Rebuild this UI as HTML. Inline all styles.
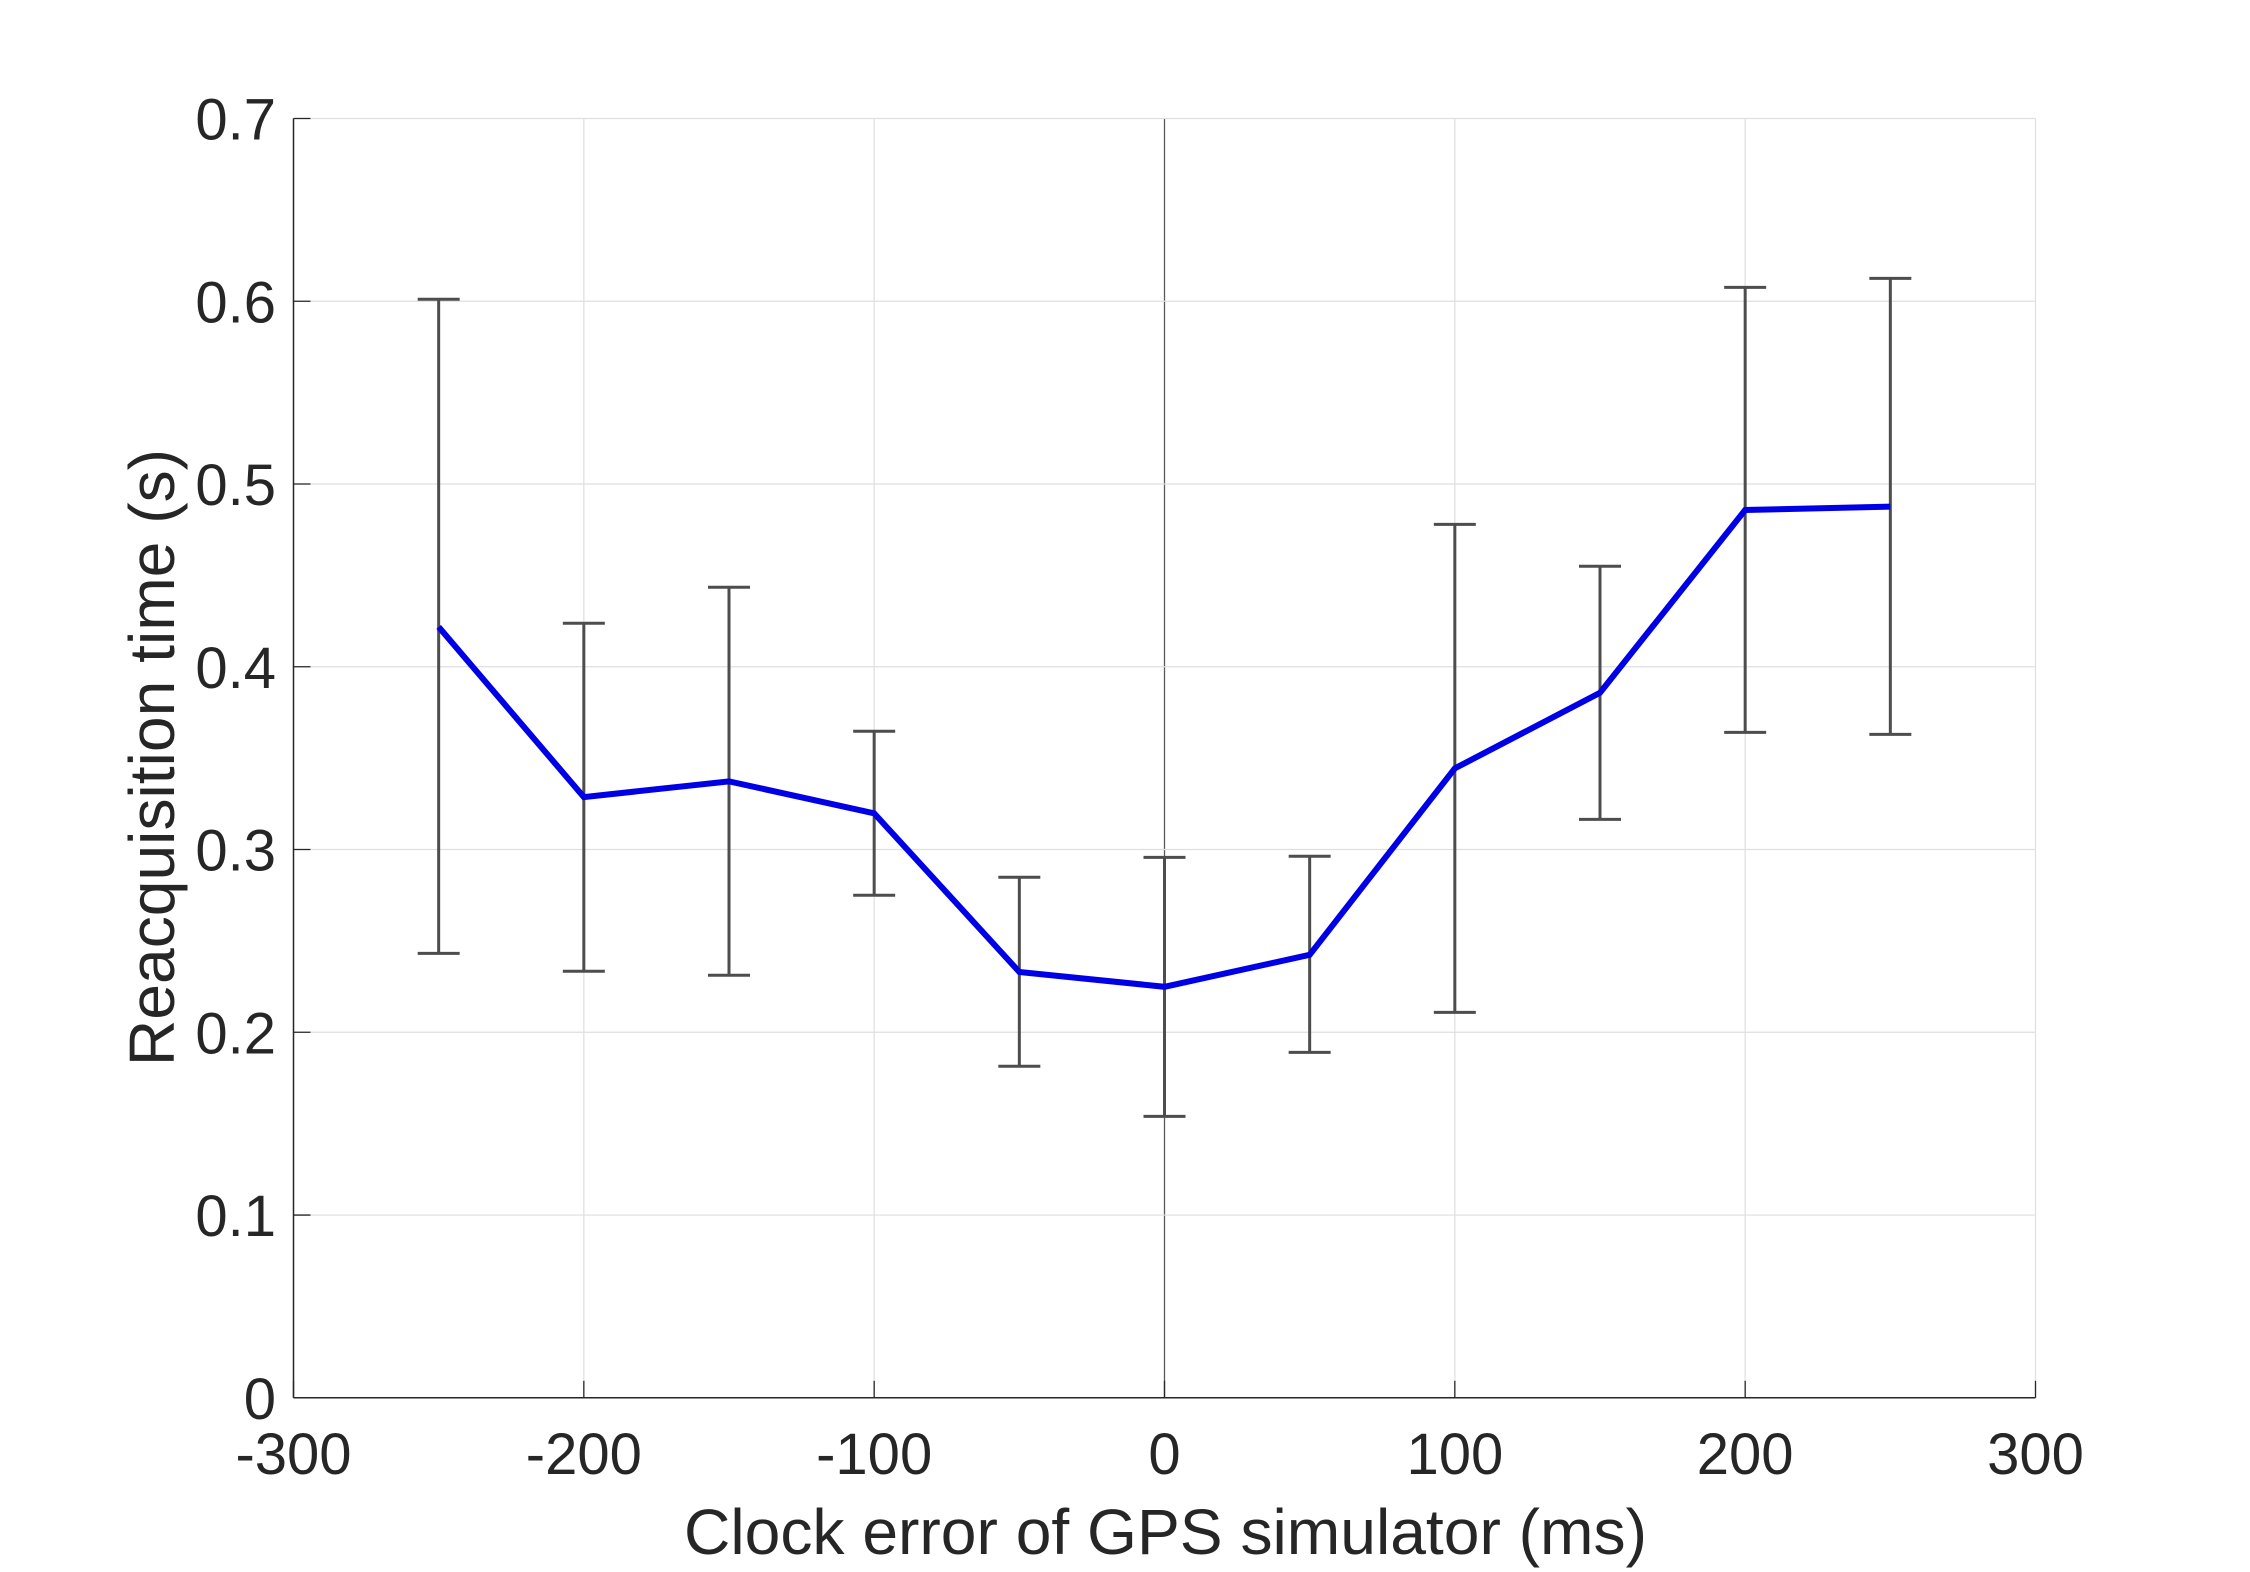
<!DOCTYPE html>
<html lang="en">
<head>
<meta charset="utf-8">
<title>Reacquisition time vs clock error</title>
<style>
html,body{margin:0;padding:0;background:#fff;}
svg{display:block;}
text{font-family:"Liberation Sans",Arial,sans-serif;fill:#262626;}
</style>
</head>
<body>
<svg id="chart" xmlns="http://www.w3.org/2000/svg" width="2250" height="1572" viewBox="0 0 2250 1572">
<rect x="0" y="0" width="2250" height="1572" fill="#ffffff"/>
<g id="grid"></g>
<g id="ticks"></g>
<g id="errs"></g>
<g id="series"></g>
<g id="labels"></g>
<text x="1165.5" y="1554" font-size="64.2" text-anchor="middle">Clock error of GPS simulator (ms)</text>
<text transform="translate(174 757.5) rotate(-90)" font-size="64.2" text-anchor="middle">Reacquisition time (s)</text>
</svg>
<script>
const categories = [-250, -200, -150, -100, -50, 0, 50, 100, 150, 200, 250];
const meanValues = [0.4218, 0.3287, 0.3373, 0.3198, 0.2330, 0.2249, 0.2424, 0.3444, 0.3858, 0.4858, 0.4876];
const upperValues = [0.6011, 0.4238, 0.4435, 0.3647, 0.2848, 0.2957, 0.2963, 0.4779, 0.4550, 0.6076, 0.6125];
const lowerValues = [0.2432, 0.2334, 0.2312, 0.2750, 0.1814, 0.1540, 0.1890, 0.2109, 0.3165, 0.3641, 0.3630];
const xTicks = [-300, -200, -100, 0, 100, 200, 300];
const yTicks = [0, 0.1, 0.2, 0.3, 0.4, 0.5, 0.6, 0.7];

const NS = 'http://www.w3.org/2000/svg';
const X_LEFT = 293.5, X_RIGHT = 2035.5, Y_BOTTOM = 1397.8, Y_TOP = 118.5;
function xScale(v) { return X_LEFT + (v + 300) / 600 * (X_RIGHT - X_LEFT); }
function yScale(v) { return Y_BOTTOM - v / 0.7 * (Y_BOTTOM - Y_TOP); }
function line(parent, x1, y1, x2, y2, color, width) {
  const el = document.createElementNS(NS, 'line');
  el.setAttribute('x1', x1);
  el.setAttribute('y1', y1);
  el.setAttribute('x2', x2);
  el.setAttribute('y2', y2);
  el.setAttribute('stroke', color);
  el.setAttribute('stroke-width', width);
  parent.appendChild(el);
  return el;
}
const gridG = document.getElementById('grid');
const ticksG = document.getElementById('ticks');
const errsG = document.getElementById('errs');
const seriesG = document.getElementById('series');
const labelsG = document.getElementById('labels');

xTicks.forEach(function (t) {
  const x = xScale(t);
  const g = line(gridG, x, Y_TOP, x, Y_BOTTOM, t === 0 ? '#5a5a5a' : '#dfdfdf', t === 0 ? 1.3 : 1.2);
  
  
  const k = line(ticksG, x, Y_BOTTOM, x, Y_BOTTOM - 17, '#262626', 1.3);
  
  
  const lab = document.createElementNS(NS, 'text');
  lab.setAttribute('x', x);
  lab.setAttribute('y', 1474);
  lab.setAttribute('font-size', 58);
  lab.setAttribute('text-anchor', 'middle');
  
  
  lab.textContent = String(t);
  labelsG.appendChild(lab);
});

yTicks.forEach(function (t) {
  const y = yScale(t);
  if (t !== 0) {
    const g = line(gridG, X_LEFT, y, X_RIGHT, y, '#dfdfdf', 1.2);
    
    
  }
  const k = line(ticksG, X_LEFT, y, X_LEFT + 17, y, '#262626', 1.3);
  
  
  const lab = document.createElementNS(NS, 'text');
  lab.setAttribute('x', 276);
  lab.setAttribute('y', y + 21);
  lab.setAttribute('font-size', 58);
  lab.setAttribute('text-anchor', 'end');
  
  
  lab.textContent = String(t);
  labelsG.appendChild(lab);
});

const xAxis = line(ticksG, X_LEFT, Y_BOTTOM, X_RIGHT, Y_BOTTOM, '#262626', 1.5);


const yAxis = line(ticksG, X_LEFT, Y_TOP, X_LEFT, Y_BOTTOM, '#262626', 1.5);



categories.forEach(function (c, i) {
  const x = xScale(c);
  const yU = yScale(upperValues[i]);
  const yL = yScale(lowerValues[i]);
  const stem = line(errsG, x, yU, x, yL, '#4d4d4d', 3);
  
  
  const capU = line(errsG, x - 21, yU, x + 21, yU, '#4d4d4d', 3);
  
  
  const capL = line(errsG, x - 21, yL, x + 21, yL, '#4d4d4d', 3);
  
  
});

const poly = document.createElementNS(NS, 'polyline');
poly.setAttribute('points', categories.map(function (c, i) { return xScale(c) + ',' + yScale(meanValues[i]); }).join(' '));
poly.setAttribute('fill', 'none');
poly.setAttribute('stroke', '#0000e6');
poly.setAttribute('stroke-width', 6);
poly.setAttribute('stroke-linejoin', 'miter');


seriesG.appendChild(poly);
</script>
</body>
</html>
